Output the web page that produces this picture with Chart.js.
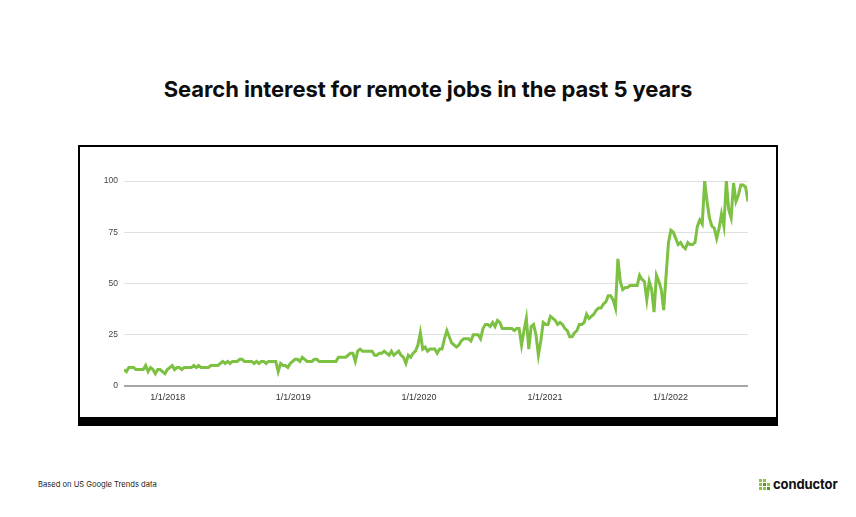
<!DOCTYPE html>
<html>
<head>
<meta charset="utf-8">
<script src="https://cdn.jsdelivr.net/npm/chart.js@4.4.0/dist/chart.umd.min.js"></script>
<style>
  html, body { margin: 0; padding: 0; background: #fff; }
  body { width: 856px; height: 517px; position: relative; overflow: hidden; font-family: Inter, "Liberation Sans", sans-serif; }
  #title { position: absolute; left: 0; top: 76px; width: 856px; text-align: center; font-size: 22px; font-weight: 700; color: #0d0d0d; letter-spacing: -0.1px; }
  #frame { position: absolute; left: 78px; top: 145px; width: 696px; height: 270px; border: 2px solid #000; border-bottom: 9px solid #000; background: #fff; }
  #frame canvas { position: absolute; left: 0; top: 0; }
  #note { position: absolute; left: 38px; top: 480px; font-size: 7.6px; color: #222; }
  #logo { position: absolute; left: 759px; top: 476px; display: flex; align-items: center; }
  #logo .mark { display: grid; grid-template-columns: repeat(3, 3px); grid-gap: 1px; margin-right: 3px; }
  #logo .mark span { width: 3px; height: 3px; }
  #logo .word { font-size: 13px; font-weight: 700; color: #111; letter-spacing: -0.1px; }
</style>
</head>
<body>
<div id="title">Search interest for remote jobs in the past 5 years</div>
<div id="frame"><canvas id="chart" width="696" height="270"></canvas></div>
<div id="note">Based on US Google Trends data</div>
<div id="logo">
  <div class="mark">
    <span style="background:#8cc63f"></span><span style="background:#8cc63f"></span><span></span>
    <span style="background:#8cc63f"></span><span style="background:#5a8f2a"></span><span style="background:#8cc63f"></span>
    <span style="background:#8cc63f"></span><span style="background:#8cc63f"></span><span style="background:#5a8f2a"></span>
  </div>
  <div class="word">conductor</div>
</div>
<script>
"use strict";

// ── Data: weekly Google Trends interest, first week starts 2017-08-27 ─────────
const firstWeek = Date.UTC(2017, 7, 27);

const interest2017 = [8, 7, 9, 9, 9, 8, 8, 8, 8, 10, 7, 9, 8, 6, 8, 8, 7, 6, 8];
const interest2018 = [9, 10, 8, 9, 9, 8, 9, 9, 9, 9, 10, 9, 10, 9, 9, 9, 9, 10, 10, 10, 10, 11,
  12, 11, 12, 11, 12, 12, 12, 13, 13, 12, 12, 12, 12, 11, 12, 11, 12, 12, 11, 12, 12, 12, 12,
  7, 11, 10, 10, 9, 11, 12];
const interest2019 = [13, 13, 12, 14, 13, 12, 12, 12, 13, 13, 12, 12, 12, 12, 12, 12, 12, 12,
  14, 14, 14, 14, 15, 16, 16, 12, 17, 18, 17, 17, 17, 17, 17, 15, 15, 16, 16, 17, 16, 15, 17,
  15, 16, 17, 15, 14, 11, 15, 14, 16, 17, 20];
const interest2020 = [26, 18, 19, 17, 18, 18, 18, 16, 18, 18, 23, 27, 24, 21, 20, 19, 20, 22,
  23, 23, 23, 22, 25, 25, 25, 23, 28, 30, 30, 29, 31, 29, 32, 31, 28, 28, 28, 28, 28, 27, 28,
  28, 20, 27, 33, 18, 29, 30, 25, 15, 22, 31];
const interest2021 = [30, 30, 34, 33, 32, 30, 31, 30, 28, 27, 24, 24, 26, 27, 30, 30, 31, 35,
  33, 34, 35, 37, 38, 38, 40, 41, 44, 44, 42, 38, 62, 51, 47, 48, 48, 49, 49, 49, 49, 54, 52,
  51, 42, 51, 47, 36, 54, 51, 47, 37, 54, 70];
const interest2022 = [76, 75, 72, 69, 70, 68, 67, 70, 69, 69, 70, 78, 81, 79, 100, 90, 82, 78,
  77, 72, 77, 84, 78, 100, 86, 82, 99, 90, 93, 98, 98, 97, 90];

const interest = [].concat(interest2017, interest2018, interest2019, interest2020, interest2021, interest2022);

const yTicks = [0, 25, 50, 75, 100];
const xTickYears = [2018, 2019, 2020, 2021, 2022];
const xTickLabels = ["1/1/2018", "1/1/2019", "1/1/2020", "1/1/2021", "1/1/2022"];

// week offset of each Jan 1st, relative to the first week
const xTickPos = xTickYears.map(y => (Date.UTC(y, 0, 1) - firstWeek) / (7 * 864e5));

const GREEN = "#7dc142";

new Chart(document.getElementById("chart"), {
  type: "line",
  data: {
    datasets: [{
      data: interest.map((v, i) => ({ x: i, y: v })),
      borderColor: GREEN,
      borderWidth: 3,
      pointRadius: 0,
      tension: 0,
      fill: false,
    }],
  },
  options: {
    responsive: false,
    animation: false,
    layout: { padding: { left: 0, right: 28, top: 34, bottom: 0 } },
    plugins: { legend: { display: false }, tooltip: { enabled: false } },
    scales: {
      x: {
        type: "linear",
        min: 0,
        max: interest.length - 1,
        afterFit: s => { s.height = 31; },
        afterBuildTicks: s => { s.ticks = xTickPos.map(v => ({ value: v })); },
        grid: { display: false, drawTicks: false },
        border: { display: false },
        ticks: {
          autoSkip: false,
          maxRotation: 0,
          padding: 6,
          color: "#333",
          font: { family: "'Liberation Sans', Arial, sans-serif", size: 9 },
          callback: (v, i) => xTickLabels[i],
        },
      },
      y: {
        min: 0,
        max: 100,
        afterFit: s => { s.width = 44; },
        afterBuildTicks: s => { s.ticks = yTicks.map(v => ({ value: v })); },
        border: { display: false },
        grid: {
          drawTicks: false,
          color: c => c.tick && c.tick.value === 0 ? "#a6a6a6" : "#e0e0e0",
          lineWidth: c => c.tick && c.tick.value === 0 ? 2 : 1,
        },
        ticks: {
          padding: 6,
          color: "#444",
          font: { family: "'Liberation Sans', Arial, sans-serif", size: 8.5 },
        },
      },
    },
  },
});
</script>
</body>
</html>
